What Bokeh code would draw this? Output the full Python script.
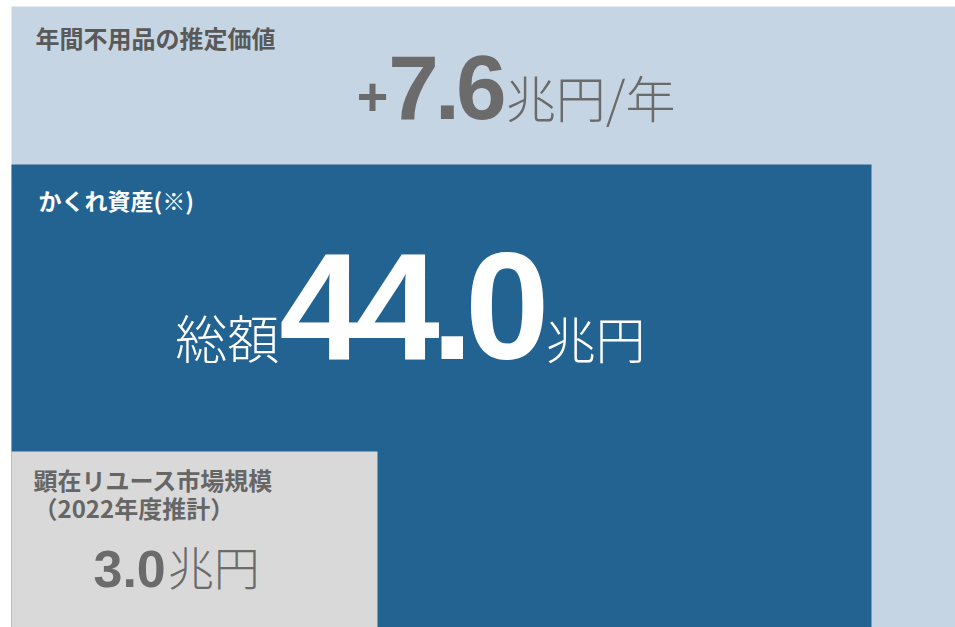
from bokeh.plotting import figure
from bokeh.models import Range1d, ColumnDataSource
from bokeh.core.properties import value
from bokeh.embed import file_html
from bokeh.resources import INLINE

# ---------------- data ----------------
categories = ["年間不用品の推定価値", "かくれ資産(※)", "顕在リユース市場規模"]
subtitles = ["", "", "（2022年度推計）"]
values = [7.6, 44.0, 3.0]
prefixes = ["+", "総額", ""]
units = ["兆円/年", "兆円", "兆円"]

# ---------------- layout (pixel coordinates, y measured downward) ----------------
W, H = 955, 627
box_left = [11, 11, 11]
box_right = [955, 871, 377]
box_top = [6, 164, 451]
box_bottom = [627, 627, 627]
box_colors = ["#c6d5e3", "#236392", "#d9d9d9"]

title_x = [35, 38, 33]
title_y = [49, 211, 491]
title_size = [24, 23, 24]
title_color = ["#595959", "#ffffff", "#666666"]

num_x0 = [387.7, 278.75, 93.0]
num_base = [120, 361, 587]
num_size = [91, 152, 52]
num_ls = [-0.044, -0.056, 0.0]
num_color = ["#6b6b6b", "#ffffff", "#6b6b6b"]
pre_size = [54, 52, 0]
pre_base = [115, 361, 587]
unit_size = [50, 50, 46]
unit_gap = [3, 4.5, 2]

LATIN = value("Liberation Sans")
CJK = value("Noto Sans CJK JP")
CJK_LIGHT = value("Noto Sans CJK JP Light")
# renderer baseline correction (fraction of font size)
LAT_OFF = 0.36
CJK_OFF = 0.49

ADV = {"0": 0.556, "1": 0.556, "2": 0.556, "3": 0.556, "4": 0.556, "5": 0.556,
       "6": 0.556, "7": 0.556, "8": 0.556, "9": 0.556, ".": 0.278, "+": 0.584}


def Y(v):
    return -v


p = figure(width=W, height=H, x_range=Range1d(0, W), y_range=Range1d(-H, 0),
           output_backend="svg", toolbar_location=None, min_border=0)
p.axis.visible = False
p.grid.visible = False
p.outline_line_color = None
p.background_fill_color = "white"
p.border_fill_color = "white"

src = ColumnDataSource(dict(left=box_left, right=box_right, top=[Y(v) for v in box_top],
                            bottom=[Y(v) for v in box_bottom], color=box_colors))
p.quad(left="left", right="right", top="top", bottom="bottom", fill_color="color",
       line_color=None, source=src)


def cjk(x, base, txt, size, color, bold, align="left"):
    p.text(x=[x], y=[Y(base - CJK_OFF * size)], text=[txt],
           text_font=CJK if bold else CJK_LIGHT,
           text_font_style="bold" if bold else "normal", text_font_size=f"{size}px",
           text_color=color, text_align=align, text_baseline="alphabetic")


for i, cat in enumerate(categories):
    cjk(title_x[i], title_y[i], cat, title_size[i], title_color[i], True)
    if subtitles[i]:
        cjk(title_x[i], title_y[i] + 28, subtitles[i], title_size[i], title_color[i], True)

    s = f"{values[i]:.1f}"
    size = num_size[i]
    x = num_x0[i]
    xs, chars = [], []
    for ch in s:
        xs.append(x + ADV[ch] * size / 2)
        chars.append(ch)
        x += ADV[ch] * size + num_ls[i] * size
    p.text(x=xs, y=[Y(num_base[i] - LAT_OFF * size)] * len(xs), text=chars, text_font=LATIN,
           text_font_style="bold", text_font_size=f"{size}px", text_color=num_color[i],
           text_align="center", text_baseline="alphabetic")

    pre = prefixes[i]
    if pre == "+":
        p.text(x=[num_x0[i]], y=[Y(pre_base[i] - LAT_OFF * pre_size[i])], text=[pre],
               text_font=LATIN, text_font_style="bold", text_font_size=f"{pre_size[i]}px",
               text_color=num_color[i], text_align="right", text_baseline="alphabetic")
    elif pre:
        cjk(num_x0[i], pre_base[i], pre, pre_size[i], num_color[i], False, "right")

    cjk(x + unit_gap[i], num_base[i], units[i], unit_size[i], num_color[i], False)

open("out.html", "w").write(file_html(p, INLINE))
